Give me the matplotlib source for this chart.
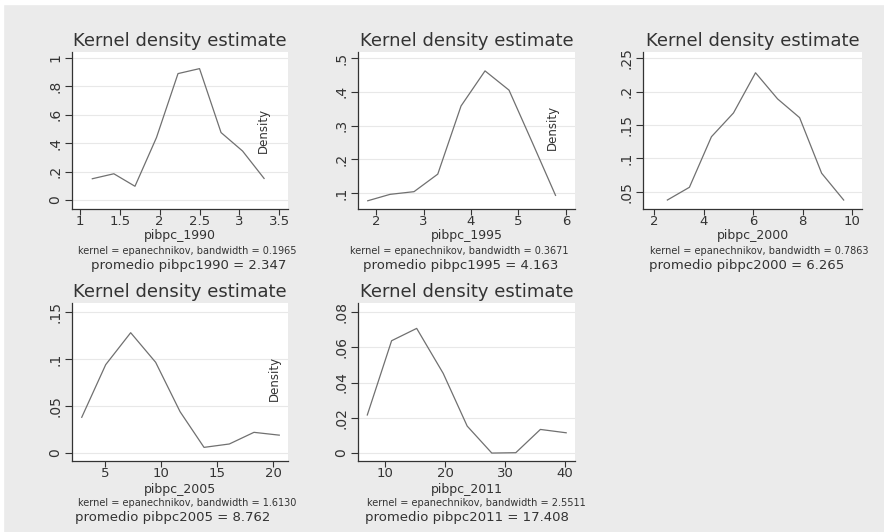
import matplotlib
matplotlib.use("Agg")
import matplotlib.pyplot as plt
from matplotlib.patches import Rectangle

# density estimates
x1990 = [1.155, 1.425, 1.69, 1.96, 2.23, 2.50, 2.77, 3.04, 3.31]
y1990 = [0.150, 0.185, 0.097, 0.440, 0.890, 0.925, 0.475, 0.345, 0.152]

x1995 = [1.825, 2.295, 2.80, 3.30, 3.79, 4.295, 4.80, 5.29, 5.78]
y1995 = [0.077, 0.096, 0.104, 0.156, 0.358, 0.462, 0.405, 0.250, 0.093]

x2000 = [2.54, 3.43, 4.32, 5.21, 6.10, 6.99, 7.88, 8.77, 9.66]
y2000 = [0.038, 0.057, 0.1325, 0.168, 0.228, 0.189, 0.161, 0.078, 0.038]

x2005 = [2.92, 5.06, 7.29, 9.52, 11.7, 13.84, 16.1, 18.3, 20.56]
y2005 = [0.038, 0.094, 0.128, 0.0965, 0.044, 0.006, 0.0096, 0.022, 0.019]

x2011 = [7.05, 11.1, 15.28, 19.7, 23.7, 27.8, 31.8, 35.9, 40.2]
y2011 = [0.0216, 0.0637, 0.0707, 0.0452, 0.0153, 0.0, 0.0002, 0.0134, 0.0115]

xlabels = ["pibpc_1990", "pibpc_1995", "pibpc_2000", "pibpc_2005", "pibpc_2011"]
bandwidths = ["0.1965", "0.3671", "0.7863", "1.6130", "2.5511"]
promedios = ["promedio pibpc1990 = 2.347", "promedio pibpc1995 = 4.163",
             "promedio pibpc2000 = 6.265", "promedio pibpc2005 = 8.762",
             "promedio pibpc2011 = 17.408"]

xticks = [[1, 1.5, 2, 2.5, 3, 3.5], [2, 3, 4, 5, 6], [2, 4, 6, 8, 10],
          [5, 10, 15, 20], [10, 20, 30, 40]]
xticklabels = [["1", "1.5", "2", "2.5", "3", "3.5"], ["2", "3", "4", "5", "6"],
               ["2", "4", "6", "8", "10"], ["5", "10", "15", "20"],
               ["10", "20", "30", "40"]]
yticks = [[0, .2, .4, .6, .8, 1], [.1, .2, .3, .4, .5], [.05, .1, .15, .2, .25],
          [0, .05, .1, .15], [0, .02, .04, .06, .08]]
yticklabels = [["0", ".2", ".4", ".6", ".8", "1"], [".1", ".2", ".3", ".4", ".5"],
               [".05", ".1", ".15", ".2", ".25"], ["0", ".05", ".1", ".15"],
               ["0", ".02", ".04", ".06", ".08"]]

W, H = 884, 532
BG = "#ebebeb"
TXT = "#333333"

# plot regions in pixels: left, top, right, bottom
boxes = [(72, 52, 288, 209), (358, 52, 575, 209), (643, 52, 862, 209),
         (72, 303, 288, 461), (358, 303, 575, 461)]
xlims = [(0.90, 3.61), (1.62, 6.19), (1.556, 10.40), (2.05, 21.34), (5.5, 41.67)]
ylims = [(-0.063, 1.042), (0.0526, 0.518), (0.0246, 0.259),
         (-0.0085, 0.1596), (-0.0045, 0.0851)]
# text centres in pixels
xlab_y = [236, 236, 236, 489, 489]
notes = [(187, 251), (459, 251), (759, 251), (187, 503), (476, 503)]
proms = [(189, 265), (461, 265), (747, 265), (173, 518), (467, 518)]
dens = [(263, 130), (552, 127), None, (274, 378), None]

plt.rcParams["font.family"] = "DejaVu Sans"
fig = plt.figure(figsize=(W / 100, H / 100), dpi=100, facecolor=BG)
fig.patches.append(Rectangle((0, 1 - 4 / H), 1, 4 / H, transform=fig.transFigure,
                             color="white", zorder=0))
fig.patches.append(Rectangle((0, 0), 3 / W, 1, transform=fig.transFigure,
                             color="white", zorder=0))

series = [(x1990, y1990), (x1995, y1995), (x2000, y2000), (x2005, y2005), (x2011, y2011)]

for i, (xs, ys) in enumerate(series):
    l, t, r, b = boxes[i]
    ax = fig.add_axes([l / W, 1 - b / H, (r - l) / W, (b - t) / H])
    ax.set_facecolor("white")
    ax.plot(xs, ys, color="#707070", lw=0.9, zorder=3)
    ax.set_xlim(xlims[i])
    ax.set_ylim(ylims[i])
    ax.set_xticks(xticks[i])
    ax.set_xticklabels(xticklabels[i], fontsize=9.5, color=TXT)
    ax.set_yticks(yticks[i])
    ax.set_yticklabels(yticklabels[i], fontsize=10, color=TXT, rotation=90, va="center")
    for y in yticks[i]:
        ax.axhline(y, color="#e8e8e8", lw=0.8, zorder=1)
    for s in ["top", "right"]:
        ax.spines[s].set_visible(False)
    for s in ["left", "bottom"]:
        ax.spines[s].set_color("#333333")
        ax.spines[s].set_linewidth(0.9)
    ax.tick_params(axis="x", length=4, width=0.8, color="#333333", pad=0)
    ax.tick_params(axis="y", length=5, width=0.8, color="#333333", pad=2)
    ax.set_title("Kernel density estimate", fontsize=13, color=TXT, pad=4)

    fig.text((l + r) / 2 / W, 1 - xlab_y[i] / H, xlabels[i], fontsize=9,
             color=TXT, ha="center", va="center")
    nx, ny = notes[i]
    fig.text(nx / W, 1 - ny / H, "kernel = epanechnikov, bandwidth = " + bandwidths[i],
             fontsize=7, color=TXT, ha="center", va="center")
    px, py = proms[i]
    fig.text(px / W, 1 - py / H, promedios[i], fontsize=9.5, color=TXT,
             ha="center", va="center")
    if dens[i] is not None:
        dx, dy = dens[i]
        fig.text(dx / W, 1 - dy / H, "Density", fontsize=8.5, color=TXT,
                 rotation=90, ha="center", va="center")

fig.savefig("out.png", dpi=100, facecolor=BG)
